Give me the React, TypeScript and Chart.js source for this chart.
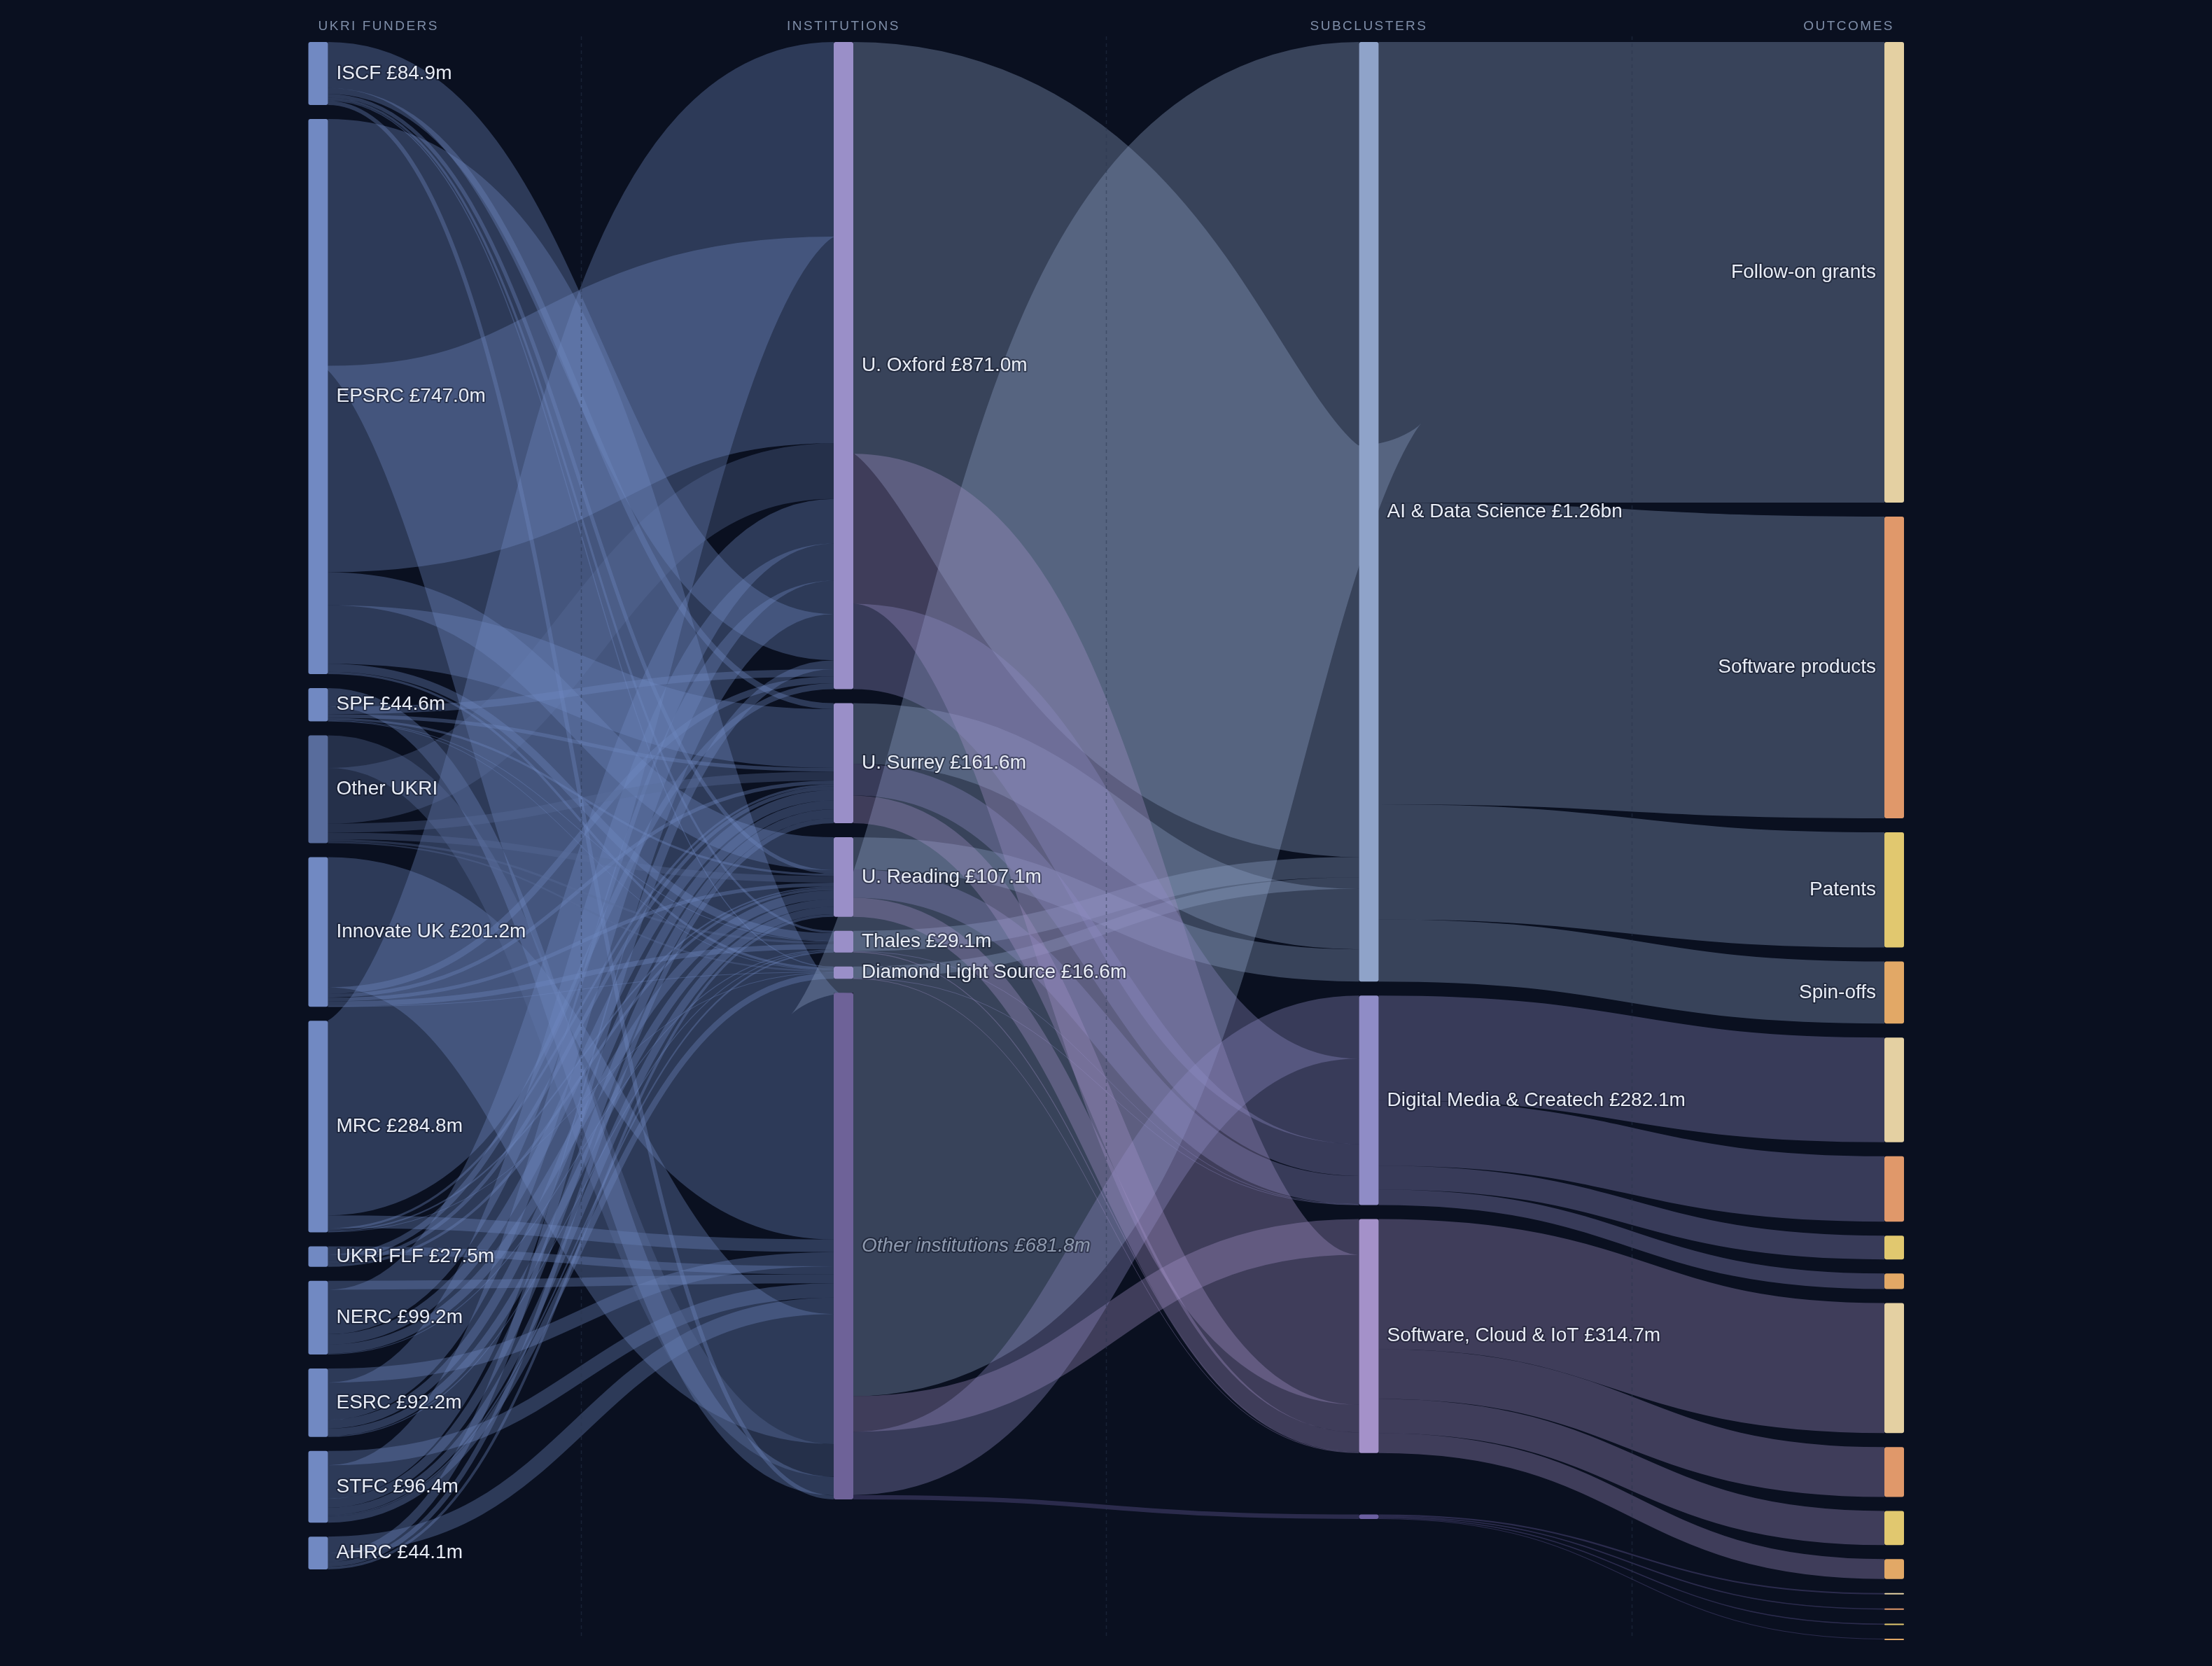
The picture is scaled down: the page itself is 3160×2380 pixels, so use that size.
import React, { useEffect, useRef } from "react";
import { Chart, registerables } from "chart.js";

Chart.register(...registerables);

// ---------------- data ----------------
const stageTitles = ["UKRI FUNDERS", "INSTITUTIONS", "SUBCLUSTERS", "OUTCOMES"];

const funders = ["ISCF", "EPSRC", "SPF", "Other UKRI", "Innovate UK", "MRC", "UKRI FLF", "NERC", "ESRC", "STFC", "AHRC"];
const institutions = ["U. Oxford", "U. Surrey", "U. Reading", "Thales", "Diamond Light Source", "Other institutions"];
const subclusters = ["AI & Data Science", "Digital Media & Createch", "Software, Cloud & IoT", "Other subclusters"];
const outcomeTypes = ["Follow-on grants", "Software products", "Patents", "Spin-offs"];

// funder -> institution grants (£m), listed in stacking order
const grantFrom = [
  "MRC", "EPSRC", "MRC", "ESRC", "UKRI FLF", "NERC", "STFC", "AHRC", "Innovate UK", "Other UKRI", "SPF",
  "EPSRC", "Other UKRI", "NERC", "ESRC", "STFC", "ISCF", "AHRC", "SPF", "Innovate UK", "UKRI FLF",
  "EPSRC",
  "ISCF", "EPSRC", "SPF", "Other UKRI", "Innovate UK", "MRC", "UKRI FLF", "NERC", "ESRC", "STFC", "AHRC",
  "ISCF", "SPF", "Other UKRI", "Innovate UK", "MRC", "UKRI FLF", "NERC", "ESRC", "STFC", "AHRC",
  "ISCF", "EPSRC", "SPF", "Other UKRI", "Innovate UK", "NERC", "ESRC", "STFC",
  "ISCF", "EPSRC", "SPF", "Other UKRI", "Innovate UK", "MRC", "STFC",
  "ISCF",
];
const grantTo = [
  "U. Oxford", "Other institutions", "Other institutions", "Other institutions", "Other institutions", "Other institutions", "Other institutions", "Other institutions", "Other institutions", "Other institutions", "Other institutions",
  "U. Oxford", "U. Oxford", "U. Oxford", "U. Oxford", "U. Oxford", "U. Oxford", "U. Oxford", "U. Oxford", "U. Oxford", "U. Oxford",
  "U. Reading",
  "U. Surrey", "U. Surrey", "U. Surrey", "U. Surrey", "U. Surrey", "U. Surrey", "U. Surrey", "U. Surrey", "U. Surrey", "U. Surrey", "U. Surrey",
  "U. Reading", "U. Reading", "U. Reading", "U. Reading", "U. Reading", "U. Reading", "U. Reading", "U. Reading", "U. Reading", "U. Reading",
  "Thales", "Thales", "Thales", "Thales", "Thales", "Thales", "Thales", "Thales",
  "Diamond Light Source", "Diamond Light Source", "Diamond Light Source", "Diamond Light Source", "Diamond Light Source", "Diamond Light Source", "Diamond Light Source",
  "Other institutions",
];
const grantValue = [
  262, 332, 17, 19, 11, 12, 19.3, 22, 175, 44, 25,
  278, 75, 60, 50, 45, 62, 12, 10, 9, 8,
  44.1,
  8, 79, 5, 12, 5, 3, 5, 14, 12, 12, 6.6,
  5, 3, 9, 5, 2, 3.5, 12, 10, 10, 3.5,
  3, 10.7, 1, 3, 7, 1.2, 1.2, 2,
  1.4, 3.2, 0.6, 2.3, 0.2, 0.8, 8.1,
  5.5,
];

// institution -> subcluster (£m), listed in stacking order
const flowFrom = [
  "Other institutions", "U. Oxford", "Thales", "Diamond Light Source", "U. Surrey", "U. Reading",
  "Other institutions", "U. Oxford", "Other institutions", "U. Oxford",
  "U. Surrey", "U. Reading", "Thales", "Diamond Light Source",
  "U. Surrey", "U. Reading", "Thales", "Diamond Light Source",
  "Other institutions",
];
const flowTo = [
  "AI & Data Science", "AI & Data Science", "AI & Data Science", "AI & Data Science", "AI & Data Science", "AI & Data Science",
  "Software, Cloud & IoT", "Software, Cloud & IoT", "Digital Media & Createch", "Digital Media & Createch",
  "Digital Media & Createch", "Digital Media & Createch", "Digital Media & Createch", "Digital Media & Createch",
  "Software, Cloud & IoT", "Software, Cloud & IoT", "Software, Cloud & IoT", "Software, Cloud & IoT",
  "Other subclusters",
];
const flowValue = [
  542.8, 554.1, 27.2, 15.5, 81.5, 43.3,
  48, 201.9, 85, 115,
  42.9, 38, 0.7, 0.5,
  37.2, 25.8, 1.2, 0.6,
  6.0,
];

// subcluster -> outcome (£m), in outcomeTypes order
const outcomesAI = [620, 406, 155, 83.4];
const outcomesDM = [141, 88, 32, 21.1];
const outcomesSC = [175, 67, 46, 26.7];
const outcomesOther = [2.0, 1.6, 1.4, 1.0];

// ---------------- styles ----------------
const CANVAS_W = 3160;
const CANVAS_H = 2380;
const BG = "#0a1020";
const PAD_TOP = 60;
const PAD_BOTTOM = 38;
const PAD_LEFT = 454.5;
const PAD_RIGHT = 454;
const NODE_W = 28;
const NODE_PAD = 20;
const RELAX = 0.17;
const LINK_ALPHA = 0.35;
const FONT = '"Liberation Sans", Arial, Helvetica, sans-serif';

const funderColor = "#7189c2";
const funderOtherColor = "#586c9c";
const instColor = "#9a8fc8";
const instOtherColor = "#6e6298";
const subColors: Record<string, string> = {
  "AI & Data Science": "#8fa3c9",
  "Digital Media & Createch": "#8f8cc6",
  "Software, Cloud & IoT": "#a491c9",
  "Other subclusters": "#6b5fa0",
};
const outcomeColors: Record<string, string> = {
  "Follow-on grants": "#e4d0a2",
  "Software products": "#e0986a",
  Patents: "#e1c86f",
  "Spin-offs": "#e2a866",
};
const labelsWithoutAmount = ["Other UKRI"];
const mutedLabels = ["Other institutions"];

// ---------------- graph ----------------
type GNode = { id: string; label: string; col: number; value: number; y0: number; y1: number; src: GLink[]; tgt: GLink[]; firstOfType: boolean };
type GLink = { s: GNode; t: GNode; v: number; sy: number; ty: number };

function buildGraph() {
  const nodes: GNode[] = [];
  const byId = new Map<string, GNode>();
  const add = (id: string, label: string, col: number, firstOfType = true) => {
    const n: GNode = { id, label, col, value: 0, y0: 0, y1: 0, src: [], tgt: [], firstOfType };
    nodes.push(n);
    byId.set(id, n);
  };
  funders.forEach((f) => add(f, f, 0));
  institutions.forEach((f) => add(f, f, 1));
  subclusters.forEach((f) => add(f, f, 2));
  subclusters.forEach((s, i) => outcomeTypes.forEach((t) => add(s + "::" + t, t, 3, i === 0)));

  const links: GLink[] = [];
  const link = (a: string, b: string, v: number) => {
    const s = byId.get(a)!;
    const t = byId.get(b)!;
    const l: GLink = { s, t, v, sy: 0, ty: 0 };
    s.src.push(l);
    t.tgt.push(l);
    links.push(l);
  };
  grantFrom.forEach((f, i) => link(f, grantTo[i], grantValue[i]));
  flowFrom.forEach((f, i) => link(f, flowTo[i], flowValue[i]));
  const outSets = [outcomesAI, outcomesDM, outcomesSC, outcomesOther];
  subclusters.forEach((s, i) => outcomeTypes.forEach((t, j) => link(s, s + "::" + t, outSets[i][j])));

  for (const n of nodes) {
    const a = n.src.reduce((p, l) => p + l.v, 0);
    const b = n.tgt.reduce((p, l) => p + l.v, 0);
    n.value = Math.max(a, b);
  }
  return { nodes, links };
}

const graph = buildGraph();
const columns = [0, 1, 2, 3].map((c) => graph.nodes.filter((n) => n.col === c));
const plotH = CANVAS_H - PAD_TOP - PAD_BOTTOM;
const KY = Math.min(
  ...columns.map((col) => (plotH - (col.length - 1) * NODE_PAD) / col.reduce((p, n) => p + n.value, 0))
);
const Y_MAX = plotH / KY;

function stackLinks(n: GNode) {
  let sy = n.y0;
  for (const l of n.src) { l.sy = sy; sy += l.v; }
  let ty = n.y0;
  for (const l of n.tgt) { l.ty = ty; ty += l.v; }
}

function layout(padV: number) {
  // pack every column from the top
  for (const col of columns) {
    let y = 0;
    for (const n of col) {
      n.y0 = y;
      n.y1 = y + n.value;
      y = n.y1 + padV;
      stackLinks(n);
    }
  }
  // let the last node of a column drift toward its links when there is room
  for (let c = 1; c < columns.length; c++) {
    const col = columns[c];
    const last = col[col.length - 1];
    let a = 0, w = 0, off = 0;
    for (const l of last.tgt) { a += (l.sy - off) * l.v; w += l.v; off += l.v; }
    if (!w) continue;
    let desired = a / w;
    if (last.src.length) {
      let b = 0, w2 = 0, off2 = 0;
      for (const l of last.src) { b += (l.ty - off2) * l.v; w2 += l.v; off2 += l.v; }
      desired = desired * (1 - RELAX) + (b / w2) * RELAX;
    }
    const y0 = Math.min(Math.max(last.y0, desired), Y_MAX - last.value);
    if (y0 > last.y0) {
      last.y0 = y0;
      last.y1 = y0 + last.value;
      stackLinks(last);
    }
  }
}

function nodeColor(n: GNode) {
  if (n.col === 0) return n.id === "Other UKRI" ? funderOtherColor : funderColor;
  if (n.col === 1) return n.id === "Other institutions" ? instOtherColor : instColor;
  if (n.col === 2) return subColors[n.id];
  return outcomeColors[n.label];
}

function rgba(hex: string, a: number) {
  const v = parseInt(hex.slice(1), 16);
  return `rgba(${(v >> 16) & 255},${(v >> 8) & 255},${v & 255},${a})`;
}

function fmt(v: number) {
  return v >= 1000 ? `£${(v / 1000).toFixed(2)}bn` : `£${v.toFixed(1)}m`;
}

function roundRect(ctx: CanvasRenderingContext2D, x: number, y: number, w: number, h: number, r: number) {
  const rr = Math.min(r, h / 2, w / 2);
  ctx.beginPath();
  ctx.moveTo(x + rr, y);
  ctx.lineTo(x + w - rr, y);
  ctx.quadraticCurveTo(x + w, y, x + w, y + rr);
  ctx.lineTo(x + w, y + h - rr);
  ctx.quadraticCurveTo(x + w, y + h, x + w - rr, y + h);
  ctx.lineTo(x + rr, y + h);
  ctx.quadraticCurveTo(x, y + h, x, y + h - rr);
  ctx.lineTo(x, y + rr);
  ctx.quadraticCurveTo(x, y, x + rr, y);
  ctx.closePath();
}

const sankeyPlugin = {
  id: "sankeyDraw",
  beforeDraw(chart: any) {
    const ctx = chart.ctx as CanvasRenderingContext2D;
    ctx.save();
    ctx.fillStyle = BG;
    ctx.fillRect(0, 0, chart.width, chart.height);
    ctx.restore();
  },
  afterDraw(chart: any) {
    const ctx = chart.ctx as CanvasRenderingContext2D;
    const xs = chart.scales.x;
    const ys = chart.scales.y;
    const ky = Math.abs(ys.getPixelForValue(1) - ys.getPixelForValue(0));
    layout(NODE_PAD / ky);
    const py = (v: number) => ys.getPixelForValue(v);
    const cx = (c: number) => xs.getPixelForValue(c);

    ctx.save();
    // links
    ctx.lineCap = "butt";
    for (const l of graph.links) {
      const x0 = cx(l.s.col) + NODE_W / 2;
      const x1 = cx(l.t.col) - NODE_W / 2;
      const y0 = py(l.sy + l.v / 2);
      const y1 = py(l.ty + l.v / 2);
      const w = Math.max(1, l.v * ky);
      const xm = (x0 + x1) / 2;
      const colorNode = l.t.col === 2 ? l.t : l.s;
      ctx.strokeStyle = rgba(nodeColor(colorNode), LINK_ALPHA);
      ctx.lineWidth = w;
      ctx.beginPath();
      ctx.moveTo(x0, y0);
      ctx.bezierCurveTo(xm, y0, xm, y1, x1, y1);
      ctx.stroke();
    }

    // dashed column separators
    ctx.setLineDash([5, 5]);
    ctx.lineWidth = 1.5;
    ctx.strokeStyle = "rgba(40,54,78,0.5)";
    for (let c = 0; c < 3; c++) {
      const x = Math.round(cx(c + 0.5)) + 0.5;
      ctx.beginPath();
      ctx.moveTo(x, 52);
      ctx.lineTo(x, py(Y_MAX));
      ctx.stroke();
    }
    ctx.setLineDash([]);

    // nodes
    for (const n of graph.nodes) {
      const x = cx(n.col) - NODE_W / 2;
      const top = py(n.y0);
      const h = Math.max(2, py(n.y1) - top);
      ctx.fillStyle = nodeColor(n);
      roundRect(ctx, x, top, NODE_W, h, 3);
      ctx.fill();
    }

    // node labels
    ctx.textBaseline = "middle";
    ctx.lineJoin = "round";
    for (const n of graph.nodes) {
      const h = py(n.y1) - py(n.y0);
      if (h < 10) continue;
      if (n.col === 3 && !n.firstOfType) continue;
      let text = n.label;
      if (n.col < 3 && !labelsWithoutAmount.includes(n.id)) text += " " + fmt(n.value);
      const muted = mutedLabels.includes(n.id);
      ctx.font = `${muted ? "italic " : ""}28px ${FONT}`;
      const yc = py((n.y0 + n.y1) / 2);
      let x: number;
      if (n.col === 3) {
        ctx.textAlign = "right";
        x = cx(n.col) - NODE_W / 2 - 12;
      } else {
        ctx.textAlign = "left";
        x = cx(n.col) + NODE_W / 2 + 12;
      }
      ctx.lineWidth = 4;
      ctx.strokeStyle = "rgba(10,16,32,0.45)";
      ctx.strokeText(text, x, yc);
      ctx.fillStyle = muted ? "#8e99ae" : "#e8ecf5";
      ctx.fillText(text, x, yc);
    }

    // stage titles
    ctx.font = `19px ${FONT}`;
    (ctx as any).letterSpacing = "2.5px";
    ctx.fillStyle = "#7f8ea8";
    stageTitles.forEach((t, c) => {
      ctx.textAlign = c === 0 ? "left" : c === stageTitles.length - 1 ? "right" : "center";
      ctx.fillText(t, cx(c), 38);
    });
    (ctx as any).letterSpacing = "0px";
    ctx.restore();
  },
};

export default function App() {
  const ref = useRef<HTMLCanvasElement>(null);
  useEffect(() => {
    document.body.style.margin = "0";
    document.body.style.background = BG;
    const canvas = ref.current!;
    const chart = new Chart(canvas, {
      type: "scatter",
      data: { datasets: [{ data: [] }] },
      options: {
        responsive: false,
        animation: false,
        devicePixelRatio: 1,
        events: [],
        layout: { padding: { top: PAD_TOP, bottom: PAD_BOTTOM, left: PAD_LEFT, right: PAD_RIGHT } },
        plugins: { legend: { display: false }, tooltip: { enabled: false }, title: { display: false } },
        scales: {
          x: { type: "linear", min: 0, max: 3, display: false },
          y: { type: "linear", min: 0, max: Y_MAX, reverse: true, display: false },
        },
      },
      plugins: [sankeyPlugin],
    } as any);
    return () => chart.destroy();
  }, []);
  return (
    <div style={{ width: CANVAS_W, height: CANVAS_H, background: BG }}>
      <canvas ref={ref} width={CANVAS_W} height={CANVAS_H} style={{ display: "block", width: CANVAS_W, height: CANVAS_H }} />
    </div>
  );
}
